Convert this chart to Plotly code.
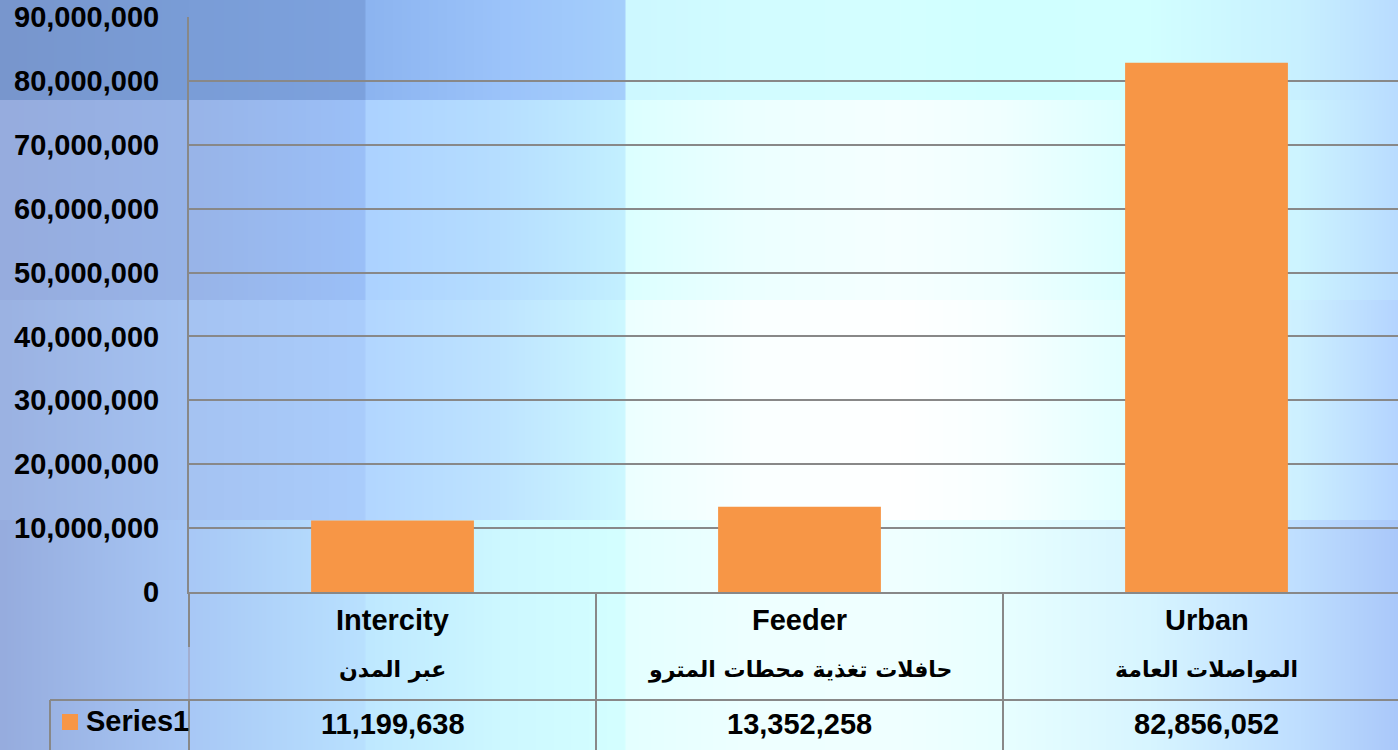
import base64
import struct
import zlib

import numpy as np
import plotly.graph_objects as go


# %% Daten
categories = ["Intercity", "Feeder", "Urban"]
categories_ar = ["عبر المدن", "حافلات تغذية محطات المترو", "المواصلات العامة"]
series_name = "Series1"
values = [11199638, 13352258, 82856052]
y_ticks = [0, 10000000, 20000000, 30000000, 40000000, 50000000, 60000000, 70000000, 80000000, 90000000]

W, H = 1398, 750
ORANGE = "#f79646"
GRID = "#888888"
FONT = "Liberation Sans, Arial, sans-serif"
FONT_AR = "DejaVu Sans, Noto Sans, sans-serif"


def px(x):
    return x / W


def py(y):
    return 1 - y / H


# %% Hintergrund (PowerPoint-Verlauf nachbauen)
xk = [0, 189, 364, 366, 500, 624, 626, 750, 900, 1000, 1150, 1300, 1398]
bands = [
    (0, 100, [(120, 150, 205), (122, 157, 215), (125, 162, 222), (140, 180, 240), (155, 195, 250),
              (165, 207, 252), (205, 248, 255), (210, 252, 255), (212, 255, 255), (208, 255, 255),
              (210, 255, 255), (200, 240, 255), (185, 220, 255)]),
    (100, 300, [(150, 172, 222), (152, 180, 232), (155, 192, 248), (172, 210, 255), (182, 222, 255),
                (195, 240, 255), (220, 255, 255), (236, 255, 255), (246, 255, 255), (240, 255, 255),
                (216, 255, 255), (205, 244, 255), (185, 220, 255)]),
    (300, 520, [(155, 178, 226), (165, 195, 242), (170, 205, 252), (178, 214, 255), (190, 228, 255),
                (205, 248, 255), (236, 255, 255), (250, 255, 255), (255, 255, 255), (248, 255, 255),
                (222, 255, 255), (205, 240, 255), (180, 212, 255)]),
    (520, 750, [(150, 172, 222), (168, 200, 246), (185, 225, 255), (190, 232, 255), (205, 248, 255),
                (212, 255, 255), (228, 255, 255), (238, 255, 255), (240, 255, 255), (232, 255, 255),
                (215, 245, 255), (190, 222, 255), (170, 200, 250)]),
]


def background():
    img = np.zeros((H, W, 3), dtype=np.uint8)
    xs = np.arange(W)
    for y0, y1, cols in bands:
        cols = np.array(cols, dtype=float)
        row = np.stack([np.interp(xs, xk, cols[:, c]) for c in range(3)], axis=1)
        img[y0:y1] = row.astype(np.uint8)
    return img


def png_uri(rgb):
    h, w, _ = rgb.shape
    raw = b"".join(b"\x00" + rgb[i].tobytes() for i in range(h))

    def chunk(tag, data):
        c = struct.pack(">I", len(data)) + tag + data
        return c + struct.pack(">I", zlib.crc32(tag + data) & 0xffffffff)

    png = (b"\x89PNG\r\n\x1a\n"
           + chunk(b"IHDR", struct.pack(">IIBBBBB", w, h, 8, 2, 0, 0, 0))
           + chunk(b"IDAT", zlib.compress(raw, 9))
           + chunk(b"IEND", b""))
    return "data:image/png;base64," + base64.b64encode(png).decode()


# %% Figur
fig = go.Figure()

fig.add_trace(go.Bar(
    x=categories,
    y=values,
    name=series_name,
    width=0.4,
    marker=dict(color=ORANGE, line=dict(width=0)),
    showlegend=False))

# Tabelle unter dem Diagramm
shapes = []
y_axis_bottom = py(592)
line = dict(color=GRID, width=2)
# linke Tabellenlinie (Verlängerung der y-Achse)
shapes.append(dict(type="line", xref="paper", yref="paper", x0=px(189), x1=px(189), y0=0, y1=y_axis_bottom,
                   line=line))
shapes.append(dict(type="line", xref="paper", yref="paper", x0=px(189), x1=px(189), y0=py(700), y1=py(647),
                   line=dict(color="#a2aed0", width=2)))
# Trennlinien zwischen den Kategorien
for xv in [0.5, 1.5]:
    shapes.append(dict(type="line", xref="x", yref="paper", x0=xv, x1=xv, y0=0, y1=y_axis_bottom, line=line))
shapes.append(dict(type="line", xref="paper", yref="paper", x0=px(50), x1=px(50), y0=0, y1=py(700), line=line))
# horizontale Linie über Series1-Zeile
shapes.append(dict(type="line", xref="paper", yref="paper", x0=px(50), x1=1, y0=py(700), y1=py(700), line=line))
# Legendenquadrat
shapes.append(dict(type="rect", xref="paper", yref="paper", x0=px(62), x1=px(78), y0=py(730), y1=py(714),
                   fillcolor=ORANGE, line=dict(width=0)))

bold = dict(family=FONT, size=29, color="black", weight="bold")
annotations = []
for i, (cat, cat_ar, v) in enumerate(zip(categories, categories_ar, values)):
    annotations.append(dict(x=i, xref="x", y=py(620), yref="paper", text=cat, showarrow=False,
                            xanchor="center", yanchor="middle", font=bold))
    annotations.append(dict(x=i, xref="x", y=py(670), yref="paper", text=cat_ar, showarrow=False,
                            xanchor="center", yanchor="middle",
                            font=dict(family=FONT_AR, size=22, color="black", weight="bold")))
    annotations.append(dict(x=i, xref="x", y=py(724), yref="paper", text=f"{v:,}", showarrow=False,
                            xanchor="center", yanchor="middle", font=bold))
annotations.append(dict(x=px(84), xref="paper", xanchor="left", y=py(721), yref="paper", yanchor="middle",
                        text=series_name, showarrow=False, font=bold))

fig.update_layout(
    template="none",
    width=W,
    height=H,
    margin=dict(l=0, r=0, t=0, b=0),
    paper_bgcolor="rgba(0,0,0,0)",
    plot_bgcolor="rgba(0,0,0,0)",
    showlegend=False,
    images=[dict(source=png_uri(background()), xref="paper", yref="paper", x=0, y=1,
                 sizex=1, sizey=1, xanchor="left", yanchor="top", sizing="stretch", layer="below")],
    shapes=shapes,
    annotations=annotations,
    xaxis=dict(
        domain=[px(189), 1],
        range=[-0.5, 2.5 - 12 / 407],
        showticklabels=False,
        showgrid=False,
        zeroline=False,
        showline=True,
        linecolor=GRID,
        linewidth=2,
        ticks="",
        automargin=False),
    yaxis=dict(
        domain=[py(592), py(17)],
        range=[0, 90000000],
        tickvals=y_ticks,
        tickformat=",d",
        tickfont=bold,
        ticklabelstandoff=22,
        showgrid=True,
        gridcolor=GRID,
        gridwidth=2,
        zeroline=False,
        showline=True,
        linecolor=GRID,
        linewidth=2,
        ticks="",
        automargin=False),
)

fig.write_html("out.html", config={"displayModeBar": False},
               post_script="document.body.style.margin='0';")
